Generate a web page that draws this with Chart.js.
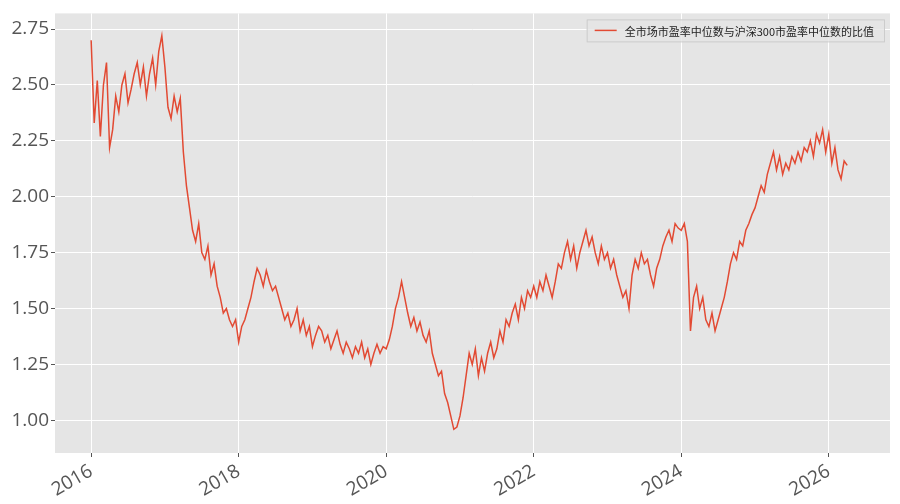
<!DOCTYPE html>
<html>
<head>
<meta charset="utf-8">
<script src="https://cdn.jsdelivr.net/npm/chart.js@4"></script>
<style>
  body { margin: 0; background: #fff; }
  #wrap { width: 900px; height: 504px; }
</style>
</head>
<body>
<div id="wrap"><canvas id="chart"></canvas></div>
<script>
// semi-monthly samples starting Jan 2016
const startYear = 2016;
const perYear = 24;
const seriesName = '全市场市盈率中位数与沪深300市盈率中位数的比值';
const yTicks = [1.00, 1.25, 1.50, 1.75, 2.00, 2.25, 2.50, 2.75];
const xTicks = [2016, 2018, 2020, 2022, 2024, 2026];
const ratio = [
  // 2016
  2.70, 2.33, 2.52, 2.27, 2.50, 2.60, 2.22, 2.30, 2.45, 2.38, 2.50, 2.55, 2.42, 2.48, 2.55, 2.60, 2.50, 2.58, 2.45, 2.55, 2.62, 2.50, 2.65, 2.72,
  // 2017
  2.58, 2.40, 2.35, 2.45, 2.38, 2.44, 2.20, 2.05, 1.95, 1.85, 1.80, 1.88, 1.75, 1.72, 1.78, 1.65, 1.70, 1.60, 1.55, 1.48, 1.50, 1.45, 1.42, 1.45,
  // 2018
  1.35, 1.42, 1.45, 1.50, 1.55, 1.62, 1.68, 1.65, 1.60, 1.67, 1.62, 1.58, 1.60, 1.55, 1.50, 1.45, 1.48, 1.42, 1.45, 1.50, 1.40, 1.45, 1.38, 1.42,
  // 2019
  1.33, 1.38, 1.42, 1.40, 1.35, 1.38, 1.32, 1.36, 1.40, 1.34, 1.30, 1.35, 1.32, 1.28, 1.33, 1.30, 1.35, 1.28, 1.32, 1.25, 1.30, 1.34, 1.30, 1.33,
  // 2020
  1.32, 1.36, 1.42, 1.50, 1.55, 1.62, 1.55, 1.48, 1.42, 1.46, 1.40, 1.44, 1.38, 1.35, 1.40, 1.30, 1.25, 1.20, 1.22, 1.12, 1.08, 1.02, 0.96, 0.97,
  // 2021
  1.02, 1.10, 1.20, 1.30, 1.25, 1.32, 1.20, 1.28, 1.22, 1.30, 1.35, 1.28, 1.32, 1.40, 1.35, 1.45, 1.42, 1.48, 1.52, 1.45, 1.55, 1.50, 1.58, 1.55,
  // 2022
  1.60, 1.55, 1.62, 1.58, 1.65, 1.60, 1.55, 1.62, 1.70, 1.68, 1.75, 1.80, 1.72, 1.78, 1.68, 1.75, 1.80, 1.85, 1.78, 1.82, 1.75, 1.70, 1.78, 1.72,
  // 2023
  1.75, 1.68, 1.72, 1.65, 1.60, 1.55, 1.58, 1.50, 1.65, 1.72, 1.68, 1.75, 1.70, 1.72, 1.65, 1.60, 1.68, 1.72, 1.78, 1.82, 1.85, 1.80, 1.88, 1.86,
  // 2024
  1.85, 1.88, 1.80, 1.40, 1.55, 1.60, 1.50, 1.55, 1.45, 1.42, 1.48, 1.40, 1.45, 1.50, 1.55, 1.62, 1.70, 1.75, 1.72, 1.80, 1.78, 1.85, 1.88, 1.92,
  // 2025
  1.95, 2.00, 2.05, 2.02, 2.10, 2.15, 2.20, 2.12, 2.18, 2.10, 2.15, 2.12, 2.18, 2.15, 2.20, 2.16, 2.22, 2.20, 2.25, 2.18, 2.28, 2.24, 2.30, 2.20,
  // 2026
  2.28, 2.15, 2.22, 2.12, 2.08, 2.16, 2.14
];

const points = ratio.map((v, i) => ({ x: startYear + i / perYear, y: v }));

const bgPlugin = {
  id: 'bg',
  beforeDraw(chart) {
    const { ctx, chartArea: a } = chart;
    ctx.save();
    ctx.fillStyle = '#E5E5E5';
    ctx.fillRect(a.left, a.top, a.right - a.left, a.bottom - a.top);
    ctx.restore();
  },
  afterDatasetsDraw(chart) {
    const { ctx, chartArea: a } = chart;
    ctx.save();
    ctx.font = '11px "Noto Sans CJK SC"';
    const tw = ctx.measureText(seriesName).width;
    const w = tw + 48, h = 22;
    const x = a.right - w - 6, y = a.top + 6;
    ctx.fillStyle = 'rgba(229,229,229,0.8)';
    ctx.strokeStyle = '#cccccc';
    ctx.lineWidth = 1;
    ctx.fillRect(x, y, w, h);
    ctx.strokeRect(x + 0.5, y + 0.5, w, h);
    ctx.strokeStyle = '#E24A33';
    ctx.lineWidth = 1.5;
    ctx.beginPath();
    ctx.moveTo(x + 8, y + h / 2);
    ctx.lineTo(x + 30, y + h / 2);
    ctx.stroke();
    ctx.fillStyle = '#222';
    ctx.textBaseline = 'middle';
    ctx.fillText(seriesName, x + 38, y + h / 2 + 1);
    ctx.restore();
  }
};

new Chart(document.getElementById('chart'), {
  type: 'line',
  data: {
    datasets: [{
      label: seriesName,
      data: points,
      borderColor: '#E24A33',
      borderWidth: 1.5,
      pointRadius: 0,
      tension: 0
    }]
  },
  options: {
    responsive: true,
    maintainAspectRatio: false,
    animation: false,
    layout: { padding: { top: 8, right: 10, left: 0, bottom: 0 } },
    plugins: { legend: { display: false }, tooltip: { enabled: false } },
    scales: {
      x: {
        type: 'linear',
        min: 2015.51,
        max: 2026.83,
        afterBuildTicks(axis) { axis.ticks = xTicks.map(v => ({ value: v })); },
        afterFit(axis) { axis.height = 51; },
        grid: { color: '#ffffff', lineWidth: 1, drawTicks: true, tickLength: 4, tickColor: '#555' },
        border: { display: false },
        ticks: {
          color: '#555',
          font: { size: 19, family: '"Open Sans", "DejaVu Sans"' },
          maxRotation: 30, minRotation: 30,
          callback: v => String(v)
        }
      },
      y: {
        min: 0.854,
        max: 2.82,
        afterBuildTicks(axis) { axis.ticks = yTicks.map(v => ({ value: v })); },
        afterFit(axis) { axis.width = 55; },
        grid: { color: '#ffffff', lineWidth: 1, tickLength: 4, tickColor: '#555' },
        border: { display: false },
        ticks: {
          color: '#555',
          font: { size: 19, family: '"Open Sans", "DejaVu Sans"' },
          padding: 2,
          callback: v => v.toFixed(2)
        }
      }
    }
  },
  plugins: [bgPlugin]
});
</script>
</body>
</html>
